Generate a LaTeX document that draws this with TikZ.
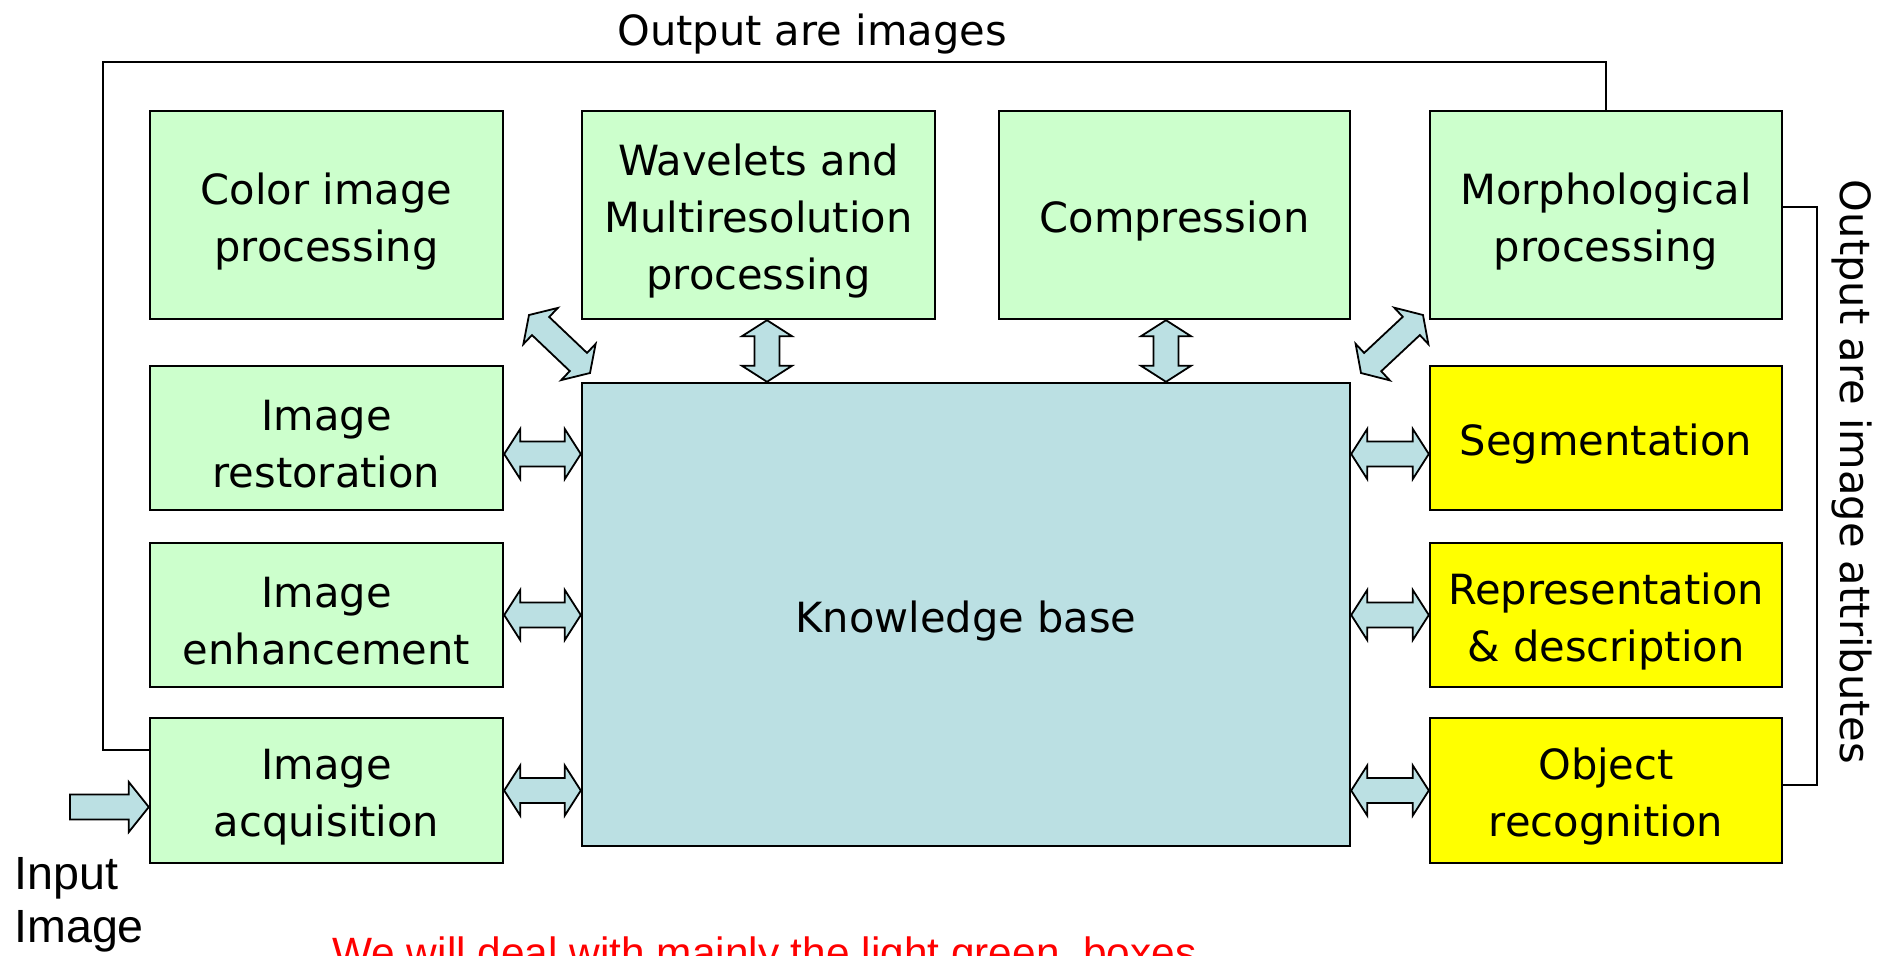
\documentclass[tikz,border=0pt]{standalone}
\usepackage{fontspec}
\setmainfont{DejaVu Sans}
\newfontfamily\arialf{Liberation Sans}
\usetikzlibrary{calc}
\definecolor{lgreen}{RGB}{204,255,204}
\definecolor{kblue}{RGB}{187,224,227}
\definecolor{yel}{RGB}{255,255,0}
\tikzset{
  boxfont/.style={font=\fontsize{20.8pt}{28.5pt}\selectfont},
  gbox/.style={draw=black, line width=1.2pt, fill=lgreen, inner sep=0pt},
  ybox/.style={gbox, fill=yel},
  kbox/.style={gbox, fill=kblue},
  btext/.style={align=center, inner sep=0pt, boxfont, yshift=-3.2pt},
  arr/.style={draw=black, line width=0.9pt, fill=kblue, line join=miter},
  link/.style={draw=black, line width=1.3pt},
}
\newcommand\dblarr[2]{%
  \coordinate (dA) at (#1);
  \coordinate (dB) at (#2);
  \coordinate (dC) at ($(dA)!8pt!(dB)$);
  \coordinate (dD) at ($(dB)!8pt!(dA)$);
  \path[arr] (dA) -- ($(dC)!12.5pt!90:(dB)$) -- ($(dC)!6.25pt!90:(dB)$)
    -- ($(dD)!6.25pt!-90:(dA)$) -- ($(dD)!12.5pt!-90:(dA)$) -- (dB)
    -- ($(dD)!12.5pt!90:(dA)$) -- ($(dD)!6.25pt!90:(dA)$)
    -- ($(dC)!6.25pt!-90:(dB)$) -- ($(dC)!12.5pt!-90:(dB)$) -- cycle;
}
\begin{document}
\begin{tikzpicture}[x=0.5pt,y=-0.5pt]
\useasboundingbox (0,0) rectangle (1887,955);
% top row
\node[gbox, minimum width=176.5pt, minimum height=104pt] (color) at (326.5,215) {};
\node[gbox, minimum width=176.5pt, minimum height=104pt] (wave) at (758.5,215) {};
\node[gbox, minimum width=175.5pt, minimum height=104pt] (comp) at (1174.5,215) {};
\node[gbox, minimum width=176pt, minimum height=104pt] (morph) at (1606,215) {};
% left column
\node[gbox, minimum width=176.5pt, minimum height=72pt] (rest) at (326.5,438) {};
\node[gbox, minimum width=176.5pt, minimum height=72pt] (enh) at (326.5,615) {};
\node[gbox, minimum width=176.5pt, minimum height=72.5pt] (acq) at (326.5,790.5) {};
% right column
\node[ybox, minimum width=176pt, minimum height=72pt] (seg) at (1606,438) {};
\node[ybox, minimum width=176pt, minimum height=72pt] (rep) at (1606,615) {};
\node[ybox, minimum width=176pt, minimum height=72.5pt] (obj) at (1606,790.5) {};
% knowledge base
\node[kbox, minimum width=384pt, minimum height=231.5pt] (kb) at (966,614.5) {};
% box texts
\node[btext] (colort) at (color) {Color image\\processing};
\node[btext] (wavet) at (wave) {Wavelets and\\Multiresolution\\processing};
\node[btext] (compt) at (comp) {Compression};
\node[btext] (morpht) at (morph) {Morphological\\processing};
\node[btext] (restt) at (rest) {Image\\restoration};
\node[btext] (enht) at (enh) {Image\\enhancement};
\node[btext] (acqt) at (acq) {Image\\acquisition};
\node[btext] (segt) at (seg) {Segmentation};
\node[btext] (rept) at (rep) {Representation\\\& description};
\node[btext] (objt) at (obj) {Object\\recognition};
\node[btext] (kbt) at (kb) {Knowledge base};
% double arrows
\dblarr{rest.east |- 0,454}{kb.west |- 0,454}
\dblarr{enh.east}{kb.west |- enh.east}
\dblarr{acq.east}{kb.west |- acq.east}
\dblarr{kb.east |- 0,454}{seg.west |- 0,454}
\dblarr{kb.east |- rep.west}{rep.west}
\dblarr{kb.east |- obj.west}{obj.west}
\dblarr{wave.south -| 767,0}{kb.north -| 767,0}
\dblarr{comp.south -| 1166,0}{kb.north -| 1166,0}
\coordinate (dl1) at (529,315);
\coordinate (dl2) at (590,373);
\dblarr{dl1}{dl2}
\coordinate (dr1) at (1423,315);
\coordinate (dr2) at (1361,373);
\dblarr{dr1}{dr2}
% input arrow
\coordinate (inp) at (70,807);
\coordinate (inq) at (acq.west |- 0,807);
\path[arr] (inp) -- ++(0,-12.5) -- ($(inq)+(-20,-12.5)$) -- ($(inq)+(-20,-25)$) -- (inq)
  -- ($(inq)+(-20,25)$) -- ($(inq)+(-20,12.5)$) -- ($(inp)+(0,12.5)$) -- cycle;
% feedback lines
\draw[link] (acq.west |- 0,750) -| (103,62) -| (morph.north);
\draw[link] (morph.east |- 0,207) -| (1817,785) -- (obj.east |- 0,785);
% labels
\node[anchor=base, boxfont, inner sep=0pt] (outimg) at (812,45) {Output are images};
\node[rotate=-90, boxfont, inner sep=0pt] (outattr) at (1852,472) {Output are image attributes};
\node[anchor=base west, align=left, inner sep=0pt, font=\arialf\fontsize{23.3pt}{26.5pt}\selectfont] (input) at (14,942) {Input\\Image};
\node[anchor=base west, inner sep=0pt, text=red, font=\arialf\fontsize{21.2pt}{25pt}\selectfont] (note) at (332,967) {We will deal with mainly the light green\ \ boxes};
\end{tikzpicture}
\end{document}
